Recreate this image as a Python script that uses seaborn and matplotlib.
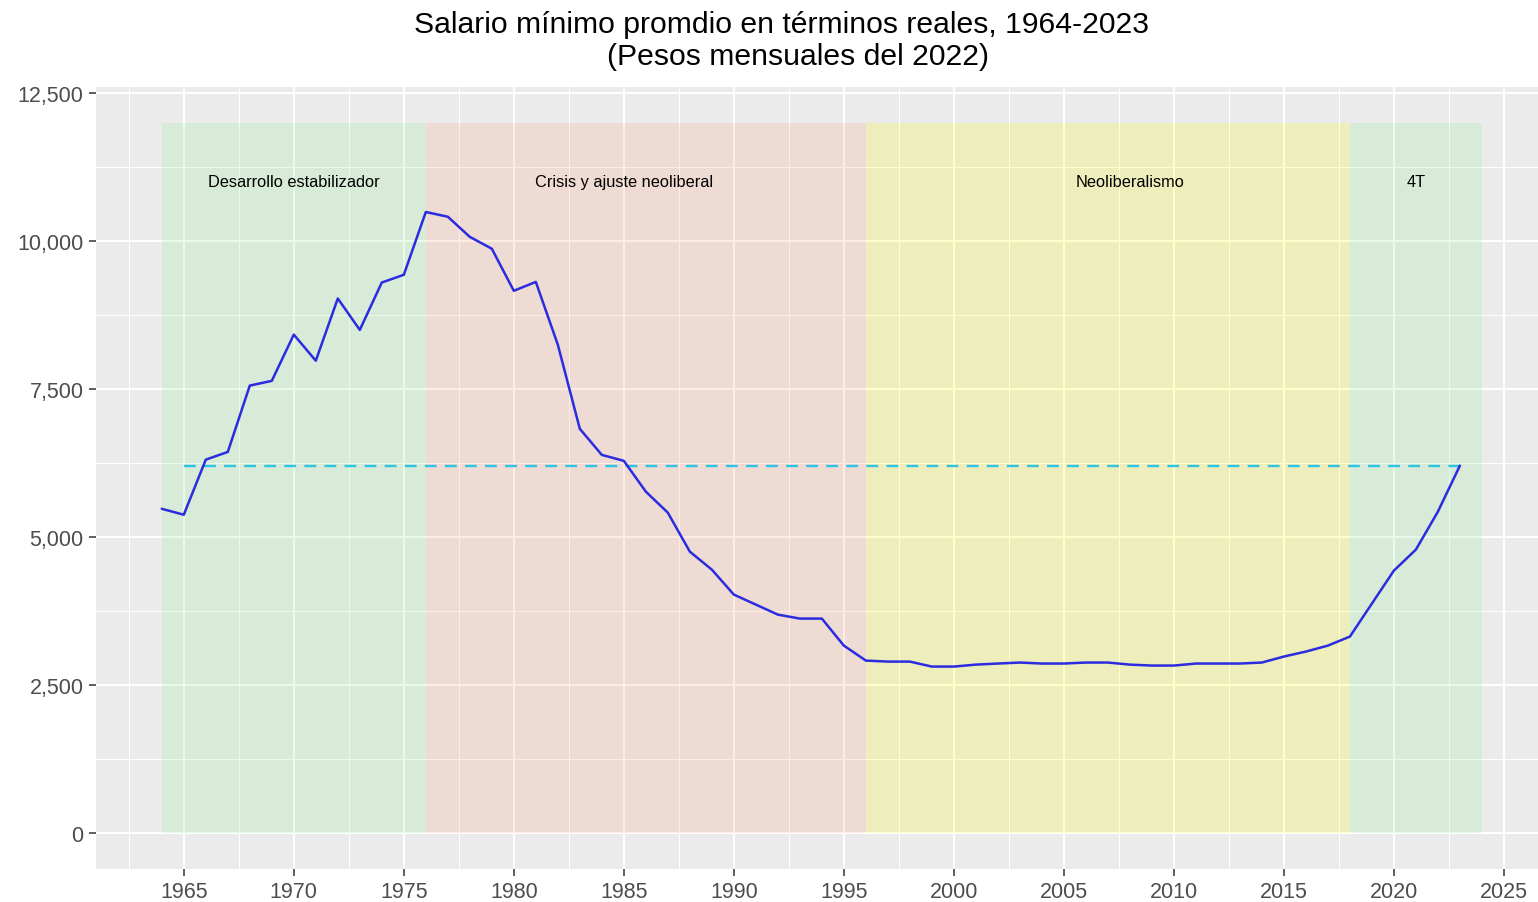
import numpy as np
import pandas as pd
import matplotlib
matplotlib.use("Agg")
import matplotlib.pyplot as plt
import seaborn as sns
from matplotlib.ticker import MultipleLocator, FuncFormatter

# ---------------- data ----------------
years = list(range(1964, 2024))
salary = [5480, 5380, 6310, 6440, 7560, 7640, 8420, 7980, 9030, 8500,
          9300, 9430, 10490, 10410, 10070, 9870, 9160, 9310, 8250, 6830,
          6390, 6290, 5770, 5415, 4757, 4453, 4032, 3863, 3694, 3627,
          3627, 3171, 2918, 2901, 2901, 2817, 2817, 2850, 2868, 2885,
          2868, 2868, 2885, 2885, 2850, 2834, 2834, 2868, 2868, 2868,
          2885, 2986, 3070, 3171, 3323, 3880, 4437, 4791, 5432, 6208]

ref_years = [1965, 2023]
ref_value = salary[-1]

period_names = ["Desarrollo estabilizador", "Crisis y ajuste neoliberal",
                "Neoliberalismo", "4T"]
period_start = [1964, 1976, 1996, 2018]
period_end = [1976, 1996, 2018, 2024]
period_label_x = [1970, 1985, 2008, 2021]
period_colors = ["lightgreen", "lightsalmon", "yellow", "lightgreen"]
period_top = 12000
label_y = 11000

title_line1 = "Salario mínimo promdio en términos reales, 1964-2023"
title_line2 = "(Pesos mensuales del 2022)"

df = pd.DataFrame({"year": years, "salary": salary})
ref_df = pd.DataFrame({"year": ref_years, "salary": [ref_value] * len(ref_years)})

# ---------------- style ----------------
sns.set_theme(style="darkgrid")
plt.rcParams["font.family"] = ["Liberation Sans", "DejaVu Sans"]

W, H = 1538, 903
fig = plt.figure(figsize=(W / 100, H / 100), dpi=100)
ax = fig.add_axes([96 / W, 1 - 870 / H, (W - 96) / W, (870 - 88) / H])
ax.set_facecolor("#EBEBEB")

ax.set_xlim(1961.01, 2026.55)
ax.set_ylim(-600, 12600)

ax.xaxis.set_major_locator(MultipleLocator(5))
ax.xaxis.set_minor_locator(MultipleLocator(2.5))
ax.yaxis.set_major_locator(MultipleLocator(2500))
ax.yaxis.set_minor_locator(MultipleLocator(1250))
ax.yaxis.set_major_formatter(FuncFormatter(lambda v, p: f"{int(v):,}"))

ax.grid(which="major", color="white", linewidth=1.5)
ax.grid(which="minor", color="white", linewidth=0.75)
ax.set_axisbelow(True)
for s in ax.spines.values():
    s.set_visible(False)

ax.tick_params(axis="both", which="major", length=5, width=1.1, color="#333333",
               labelsize=15.5, labelcolor="#4D4D4D", pad=4, bottom=True, left=True)
ax.tick_params(axis="both", which="minor", length=0)

# period rectangles
for name, x0, x1, lx, c in zip(period_names, period_start, period_end,
                               period_label_x, period_colors):
    ax.fill_between([x0, x1], 0, period_top, color=c, alpha=0.2, linewidth=0, zorder=1)
    ax.text(lx, label_y, name, ha="center", va="center",
            fontsize=11.8, color="black", zorder=3)

# reference dashed line
sns.lineplot(data=ref_df, x="year", y="salary", ax=ax, color="#2EC4E6",
             linewidth=1.7, dashes=False, zorder=3)
ax.lines[-1].set_dashes((5, 3.5))

# main line
sns.lineplot(data=df, x="year", y="salary", ax=ax, color="#2B2BE0",
             linewidth=1.8, zorder=4)

ax.set_xlabel("")
ax.set_ylabel("")

fig.text(782 / W, 1 - 25 / H, title_line1, ha="center", va="center",
         fontsize=21.7, color="black")
fig.text(798 / W, 1 - 57 / H, title_line2, ha="center", va="center",
         fontsize=21.7, color="black")

fig.savefig("out.png", dpi=100)
